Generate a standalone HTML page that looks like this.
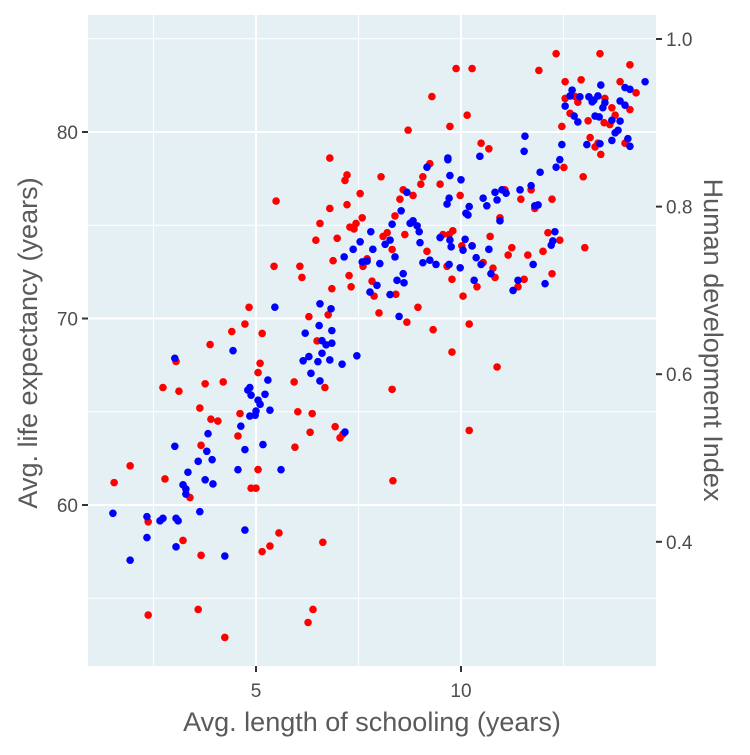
<!DOCTYPE html>
<html><head><meta charset="utf-8"><style>
body{margin:0;background:#fff}
svg text{font-family:"Liberation Sans",sans-serif}
</style></head><body>
<svg id="chart" width="750" height="750" xmlns="http://www.w3.org/2000/svg">
<rect x="88" y="15" width="568" height="651" fill="#e5f0f5"/>
<g id="grid"></g>
<g id="points"></g>
<g id="axes"></g>
<text x="372" y="731" font-size="27" fill="#5a5a5a" text-anchor="middle">Avg. length of schooling (years)</text>
<text transform="translate(37,343) rotate(-90)" font-size="27" fill="#5a5a5a" text-anchor="middle">Avg. life expectancy (years)</text>
<text transform="translate(704,340) rotate(90)" font-size="27" fill="#5a5a5a" text-anchor="middle">Human development Index</text>
</svg>
<script>
const xTicks=[5,10];
const yTicks=[60,70,80];
const y2Ticks=[0.4,0.6,0.8,1.0];
const redSchool=[1.54,1.93,2.37,2.37,2.73,2.78,3.05,3.12,3.22,3.39,3.63,3.59,3.66,3.66,3.76,3.88,3.90,4.07,4.20,4.24,4.41,4.56,4.61,4.73,4.83,4.88,5.0,5.05,5.05,5.10,5.15,5.15,5.34,5.49,5.44,5.56,5.93,5.95,6.02,6.07,6.12,6.29,6.27,6.32,6.37,6.39,6.46,6.49,6.56,6.63,6.68,6.76,6.80,6.85,6.80,6.88,6.93,6.98,7.05,7.12,7.17,7.22,7.22,7.27,7.32,7.29,7.39,7.44,7.54,7.59,7.61,7.71,7.83,7.88,8.0,8.05,8.10,8.20,8.32,8.32,8.34,8.39,8.41,8.51,8.59,8.63,8.68,8.71,8.83,8.95,9.02,9.07,9.17,9.24,9.29,9.32,9.49,9.56,9.66,9.71,9.73,9.78,9.78,9.88,9.80,9.98,10.02,10.05,10.15,10.2,10.2,10.27,10.27,10.39,10.49,10.54,10.68,10.71,10.78,10.83,10.88,10.95,11.07,11.15,11.24,11.39,11.46,11.54,11.63,11.71,11.80,11.90,12.0,12.12,12.22,12.32,12.22,12.41,12.54,12.46,12.51,12.66,12.78,12.85,12.93,12.98,13.02,13.15,13.27,13.34,13.39,13.41,13.49,13.51,13.68,13.76,13.88,14.0,14.12,14.12,14.27,12.54,13.1,13.63];
const redLife=[61.2,62.1,54.1,59.1,66.3,61.4,67.7,66.1,58.1,60.4,65.2,54.4,63.2,57.3,66.5,68.6,64.6,64.5,66.6,52.9,69.3,63.7,64.9,69.7,70.6,60.9,60.9,67.1,61.9,67.6,69.2,57.5,57.8,76.3,72.8,58.5,66.6,63.1,65.0,72.8,72.2,70.1,53.7,63.9,64.9,54.4,74.2,68.8,75.1,58.0,66.3,70.2,75.9,71.6,78.6,73.1,64.2,74.3,63.6,63.8,77.4,77.7,76.1,72.3,71.7,74.9,74.8,75.1,76.7,75.4,72.8,73.2,72.0,71.2,70.3,77.6,74.4,74.6,73.7,66.2,61.3,75.5,71.3,76.4,76.9,74.5,69.8,80.1,76.6,70.6,77.2,77.6,73.6,78.3,81.9,69.4,77.2,74.5,72.8,74.5,80.3,68.2,72.1,83.4,74.7,76.6,73.9,71.2,80.9,69.7,64.0,83.4,73.9,71.7,79.4,73.0,79.1,74.4,72.7,72.2,67.4,75.4,76.9,73.4,73.8,71.7,76.4,72.1,73.4,76.9,75.9,83.3,73.6,74.6,72.4,84.2,76.4,74.2,82.7,80.3,78.1,81.0,81.9,81.6,82.8,77.6,73.8,79.7,79.2,79.4,84.2,78.8,80.5,81.8,81.3,80.9,82.7,79.4,83.6,81.2,82.1,81.8,80.6,80.4];
const blueSchool=[1.51,1.93,2.34,2.34,2.66,2.73,3.02,3.02,3.05,3.05,3.10,3.22,3.29,3.29,3.34,3.59,3.63,3.76,3.83,3.80,3.93,3.95,4.24,4.44,4.56,4.63,4.73,4.73,4.80,4.85,4.88,4.85,4.98,5.0,5.05,5.10,5.17,5.22,5.29,5.34,5.46,5.61,6.15,6.20,6.29,6.34,6.51,6.54,6.56,6.56,6.61,6.61,6.71,6.83,6.80,6.85,7.15,7.17,6.85,7.10,7.37,7.46,7.54,7.59,7.71,7.78,7.80,7.85,7.95,8.02,8.15,8.27,8.27,8.32,8.39,8.44,8.49,8.54,8.59,8.61,8.68,8.76,8.83,8.93,8.98,9.0,9.07,9.17,9.24,9.39,9.49,9.66,9.68,9.68,9.71,9.73,9.73,9.71,9.76,9.98,10.0,10.05,10.1,10.12,10.17,10.2,10.27,10.32,10.37,10.46,10.49,10.54,10.63,10.68,10.73,10.83,10.88,10.95,11.0,11.1,11.27,11.39,11.44,11.54,11.56,11.71,11.76,11.80,11.88,11.93,12.05,12.2,12.24,12.29,12.32,12.41,12.46,12.54,12.66,12.71,12.76,12.85,12.90,13.07,13.12,13.2,13.24,13.27,13.39,13.46,13.51,13.68,13.68,13.76,13.83,13.88,13.88,14.0,14.0,14.12,14.12,14.07,14.49,13.37,13.34,13.41];
const blueHdi=[0.434,0.378,0.405,0.430,0.425,0.428,0.619,0.514,0.428,0.394,0.425,0.468,0.463,0.457,0.483,0.496,0.436,0.474,0.529,0.508,0.498,0.469,0.383,0.628,0.486,0.538,0.510,0.414,0.581,0.584,0.575,0.550,0.551,0.556,0.569,0.564,0.516,0.576,0.593,0.557,0.680,0.486,0.616,0.649,0.621,0.601,0.615,0.658,0.592,0.684,0.625,0.640,0.635,0.678,0.617,0.652,0.740,0.531,0.637,0.612,0.749,0.622,0.758,0.734,0.735,0.698,0.770,0.749,0.706,0.732,0.755,0.760,0.695,0.779,0.740,0.712,0.669,0.795,0.720,0.709,0.817,0.780,0.783,0.777,0.770,0.757,0.733,0.847,0.736,0.731,0.763,0.803,0.858,0.856,0.810,0.837,0.760,0.731,0.752,0.727,0.832,0.748,0.761,0.792,0.790,0.800,0.753,0.712,0.739,0.860,0.731,0.810,0.801,0.749,0.720,0.817,0.808,0.783,0.820,0.816,0.700,0.712,0.820,0.866,0.884,0.825,0.731,0.801,0.802,0.841,0.708,0.754,0.759,0.770,0.847,0.856,0.874,0.920,0.932,0.939,0.908,0.901,0.931,0.874,0.931,0.925,0.927,0.908,0.875,0.918,0.924,0.879,0.903,0.888,0.891,0.926,0.902,0.942,0.921,0.940,0.872,0.881,0.949,0.907,0.932,0.945];

const NS="http://www.w3.org/2000/svg";
const X0=88,X1=656,Y0=15,Y1=666;
const xScale=v=>51+v*41;
const yScale=v=>132-(v-80)*18.65;
const y2Scale=v=>39+(1-v)*838;
function mk(tag,attrs,parent){const e=document.createElementNS(NS,tag);for(const k in attrs)e.setAttribute(k,attrs[k]);parent.appendChild(e);return e;}
const grid=document.getElementById('grid'),pts=document.getElementById('points'),axes=document.getElementById('axes');
[2.5,7.5,12.5].forEach(v=>{const l=mk('line',{x1:xScale(v),x2:xScale(v),y1:Y0,y2:Y1,stroke:'#fff','stroke-width':1},grid);

});
[55,65,75,85].forEach(v=>{const l=mk('line',{x1:X0,x2:X1,y1:yScale(v),y2:yScale(v),stroke:'#fff','stroke-width':1},grid);

});
xTicks.forEach(v=>{const l=mk('line',{x1:xScale(v),x2:xScale(v),y1:Y0,y2:Y1,stroke:'#fff','stroke-width':2},grid);


const t=mk('line',{x1:xScale(v),x2:xScale(v),y1:Y1,y2:Y1+6,stroke:'#333','stroke-width':2},axes);


const tx=mk('text',{x:xScale(v),y:Y1+31,'font-size':19,fill:'#4d4d4d','text-anchor':'middle'},axes);tx.textContent=v;

});
yTicks.forEach(v=>{const l=mk('line',{x1:X0,x2:X1,y1:yScale(v),y2:yScale(v),stroke:'#fff','stroke-width':2},grid);


const t=mk('line',{x1:X0-6,x2:X0,y1:yScale(v),y2:yScale(v),stroke:'#333','stroke-width':2},axes);


const tx=mk('text',{x:X0-10,y:yScale(v)+7,'font-size':19,fill:'#4d4d4d','text-anchor':'end'},axes);tx.textContent=v;

});
y2Ticks.forEach(v=>{const t=mk('line',{x1:X1,x2:X1+6,y1:y2Scale(v),y2:y2Scale(v),stroke:'#333','stroke-width':2},axes);


const tx=mk('text',{x:X1+10,y:y2Scale(v)+7,'font-size':19,fill:'#4d4d4d','text-anchor':'start'},axes);tx.textContent=v.toFixed(1);

});
redSchool.forEach((s,i)=>{const c=mk('circle',{cx:xScale(s),cy:yScale(redLife[i]),r:3.8,fill:'#ff0000'},pts);

});
blueSchool.forEach((s,i)=>{const c=mk('circle',{cx:xScale(s),cy:y2Scale(blueHdi[i]),r:3.8,fill:'#0000ff'},pts);

});
</script>
</body></html>
